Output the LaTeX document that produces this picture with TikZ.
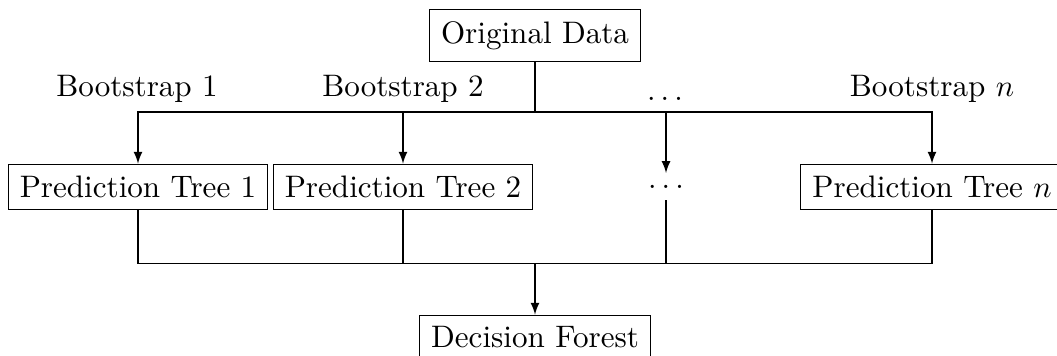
\documentclass[tikz,border=0pt]{standalone}
\usetikzlibrary{arrows}
\begin{document}
\begin{tikzpicture}[x=0.328pt,y=-0.328pt,
  font=\fontsize{10.2}{12}\selectfont,
  line width=0.35pt,
  box/.style={draw,inner sep=3.8pt},
  lab/.style={anchor=base,inner sep=0pt},
  arr/.style={-latex}]
\useasboundingbox (0,0) rectangle (1057,356);
% source and bootstrap samples
\node[box] (orig) at (535,35.3) {Original Data};
\node[lab] (b1) at (137,97) {Bootstrap 1};
\node[lab] (b2) at (403,97) {Bootstrap 2};
\node[lab] (bd) at (665,101) {$\ldots$};
\node[lab] (bn) at (932,97) {Bootstrap $n$};
% trees
\node[box] (p1) at (138,186.7) {Prediction Tree 1};
\node[box] (p2) at (403,186.7) {Prediction Tree 2};
\node[inner sep=3.8pt] (pd) at (666,186.7) {$\ldots$};
\node[box] (pn) at (932,186.7) {Prediction Tree $n$};
% aggregate
\node[box] (df) at (535,337.5) {Decision Forest};
% split bus
\coordinate (top) at (535,112);
\draw (orig) -- (top);
\draw[arr] (top) -| (p1);
\draw[arr] (top) -| (p2);
\draw[arr] (top) -| (pd);
\draw[arr] (top) -| (pn);
% merge bus
\coordinate (bot) at (535,263.5);
\draw (p1) |- (bot);
\draw (p2) |- (bot);
\draw (pd) |- (bot);
\draw (pn) |- (bot);
\draw[arr] (bot) -- (df);
\end{tikzpicture}
\end{document}
